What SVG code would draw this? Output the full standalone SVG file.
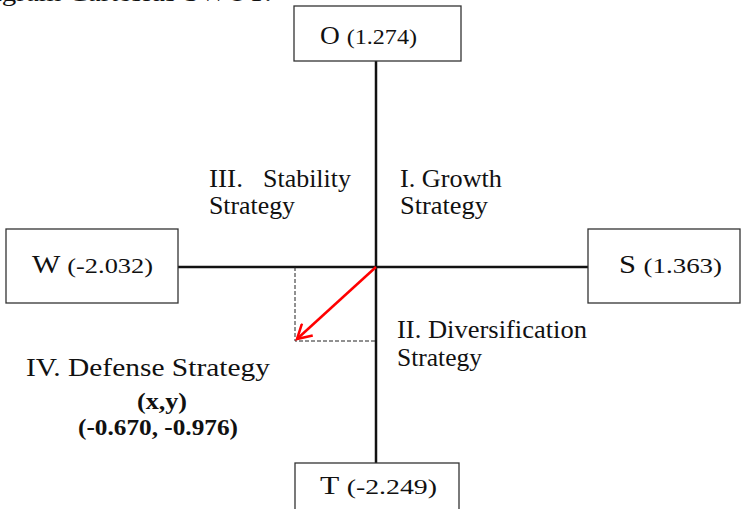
<svg xmlns="http://www.w3.org/2000/svg" width="745" height="509" viewBox="0 0 745 509">
<defs>
<style>
.box{fill:#fff;stroke:#333;stroke-width:1.3}
.t{font-family:"Liberation Serif","Times New Roman",serif;font-size:25px;fill:#111}
.s{font-size:22px}
.b{font-weight:bold;font-size:23px}
.axis{stroke:#111;stroke-width:2.5;fill:none}
.dash{stroke:#222;stroke-width:1;stroke-dasharray:4,2;fill:none}
.red{stroke:#f00;stroke-width:2.5;fill:none}
</style>
<marker id="ah" markerWidth="18" markerHeight="18" refX="15" refY="9" orient="auto" markerUnits="userSpaceOnUse">
<path d="M1,1 L15,9 L1,17" fill="none" stroke="#f00" stroke-width="2.5"/>
</marker>
</defs>
<rect width="745" height="509" fill="#fff"/>
<text class="t" x="-40" y="1" textLength="312" lengthAdjust="spacingAndGlyphs">Diagram Cartesius SWOT:</text>
<g id="connectors">
<line class="axis" x1="376" y1="61" x2="376" y2="463"/>
<line class="axis" x1="178" y1="267" x2="588" y2="267"/>
<polyline class="dash" points="295,267 295,341 376,341"/>
<line class="red" x1="376" y1="267" x2="297" y2="339" marker-end="url(#ah)"/>
</g>
<g id="node-O">
<rect class="box" x="294" y="6" width="167" height="55"/>
<text class="t" x="320" y="44" textLength="97" lengthAdjust="spacingAndGlyphs">O <tspan class="s">(1.274)</tspan></text>
</g>
<g id="node-W">
<rect class="box" x="6" y="229" width="172" height="74"/>
<text class="t" x="32" y="273" textLength="121" lengthAdjust="spacingAndGlyphs">W <tspan class="s">(-2.032)</tspan></text>
</g>
<g id="node-S">
<rect class="box" x="588" y="229" width="152" height="74"/>
<text class="t" x="619" y="273" textLength="103" lengthAdjust="spacingAndGlyphs">S <tspan class="s">(1.363)</tspan></text>
</g>
<g id="node-T">
<rect class="box" x="295" y="463" width="164" height="60"/>
<text class="t" x="320" y="494" textLength="117" lengthAdjust="spacingAndGlyphs">T <tspan class="s">(-2.249)</tspan></text>
</g>
<g id="labels">
<text class="t" x="209" y="187" textLength="34" lengthAdjust="spacingAndGlyphs">III.</text>
<text class="t" x="263" y="187" textLength="88" lengthAdjust="spacingAndGlyphs">Stability</text>
<text class="t" x="209" y="214" textLength="86" lengthAdjust="spacingAndGlyphs">Strategy</text>
<text class="t" x="400" y="187" textLength="102" lengthAdjust="spacingAndGlyphs">I. Growth</text>
<text class="t" x="400" y="214" textLength="88" lengthAdjust="spacingAndGlyphs">Strategy</text>
<text class="t" x="397" y="338" textLength="190" lengthAdjust="spacingAndGlyphs">II. Diversification</text>
<text class="t" x="397" y="366" textLength="85" lengthAdjust="spacingAndGlyphs">Strategy</text>
<text class="t" x="26" y="376" textLength="244" lengthAdjust="spacingAndGlyphs">IV. Defense Strategy</text>
<text class="t b" x="137" y="409" textLength="50" lengthAdjust="spacingAndGlyphs">(x,y)</text>
<text class="t b" x="78" y="435" textLength="160" lengthAdjust="spacingAndGlyphs">(-0.670, -0.976)</text>
</g>
</svg>
